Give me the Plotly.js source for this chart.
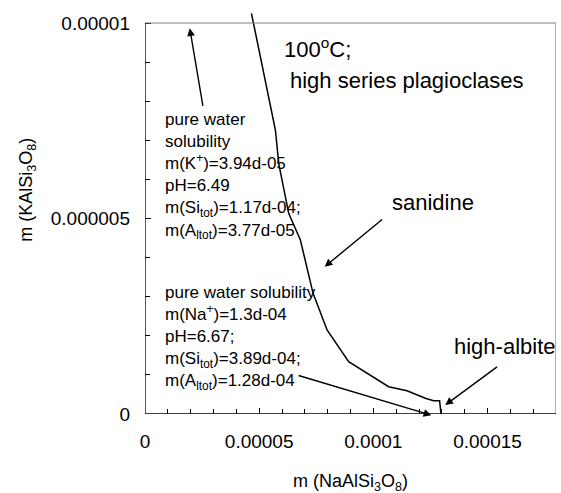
<!DOCTYPE html>
<html>
<head>
<meta charset="utf-8">
<script src="https://cdn.plot.ly/plotly-3.0.1.min.js"></script>
<style>html,body{margin:0;padding:0;background:#fff}#chart{width:561px;height:493px}</style>
</head>
<body>
<div id="chart"></div>
<script>
// Boundary curve (sanidine / high-albite), m(NaAlSi3O8) vs m(KAlSi3O8)
const curveX = [4.661e-5, 5.711e-5, 5.856e-5, 6.293e-5, 6.805e-5, 7.243e-5, 7.361e-5, 7.974e-5, 8.919e-5, 1.0670e-4, 1.1475e-4, 1.2276e-4, 1.2639e-4, 1.2902e-4, 1.2963e-4];
const curveY = [1.0248e-5, 7.263e-6, 6.412e-6, 5.133e-6, 4.450e-6, 3.427e-6, 3.087e-6, 2.148e-6, 1.338e-6, 6.98e-7, 5.96e-7, 4.02e-7, 3.40e-7, 3.40e-7, 0];

const xTickVals = [0, 5e-5, 1e-4, 1.5e-4];
const xTickText = ['0', '0.00005', '0.0001', '0.00015'];
const xMinorVals = [1e-5, 2e-5, 3e-5, 4e-5, 6e-5, 7e-5, 8e-5, 9e-5, 1.1e-4, 1.2e-4, 1.3e-4, 1.4e-4, 1.6e-4, 1.7e-4];
const yTickVals = [0, 5e-6, 1e-5];
const yTickText = ['0', '0.000005', '0.00001'];
const yMinorVals = [1e-6, 2e-6, 3e-6, 4e-6, 6e-6, 7e-6, 8e-6, 9e-6];

const kText = ['pure water', 'solubility', 'm(K<sup>+</sup>)=3.94d-05', 'pH=6.49', 'm(Si<sub>tot</sub>)=1.17d-04;', 'm(A<sub>ltot</sub>)=3.77d-05'];
const naText = ['pure water solubility', 'm(Na<sup>+</sup>)=1.3d-04', 'pH=6.67;', 'm(Si<sub>tot</sub>)=3.89d-04;', 'm(A<sub>ltot</sub>)=1.28d-04'];

const FONT = 'Liberation Sans, Arial, sans-serif';
const XMAX = 1.8e-4, YTOP = 1e-5;

const trace = {
  x: curveX, y: curveY, type: 'scatter', mode: 'lines',
  line: {color: '#000', width: 1.5}, hoverinfo: 'skip', showlegend: false
};

function arrow(hx, hy, tx, ty) {
  return {x: hx, y: hy, ax: tx, ay: ty, xref: 'x', yref: 'y', axref: 'x', ayref: 'y',
    text: '', showarrow: true, arrowhead: 2, arrowsize: 1.1, arrowwidth: 1.4,
    arrowcolor: '#000', standoff: 0, startstandoff: 0};
}
function label(x, y, text, size) {
  return {x: x, y: y, xref: 'x', yref: 'y', text: text, showarrow: false,
    xanchor: 'left', yanchor: 'middle', align: 'left',
    font: {family: FONT, size: size, color: '#000'}};
}

const layout = {
  width: 561, height: 493,
  margin: {l: 145, r: 5, t: 11, b: 79},
  paper_bgcolor: '#fff', plot_bgcolor: '#fff',
  font: {family: FONT, color: '#000'},
  showlegend: false,
  xaxis: {
    range: [0, XMAX], showline: false, zeroline: false, showgrid: false,
    tickmode: 'array', tickvals: xTickVals, ticktext: xTickText,
    ticks: 'inside', ticklen: 6, tickwidth: 1, tickcolor: '#000',
    ticklabelstandoff: 14,
    tickfont: {family: FONT, size: 19, color: '#000'},
    minor: {tickmode: 'array', tickvals: xMinorVals, ticks: 'inside', ticklen: 5, tickcolor: '#000', showgrid: false}
  },
  yaxis: {
    range: [0, YTOP * 403 / 391], showline: false, zeroline: false, showgrid: false,
    tickmode: 'array', tickvals: yTickVals, ticktext: yTickText,
    ticks: 'inside', ticklen: 6, tickwidth: 1, tickcolor: '#000',
    ticklabelstandoff: 14,
    tickfont: {family: FONT, size: 19, color: '#000'},
    minor: {tickmode: 'array', tickvals: yMinorVals, ticks: 'inside', ticklen: 5, tickcolor: '#000', showgrid: false}
  },
  shapes: [
    {type: 'line', xref: 'x', yref: 'y', x0: 0, x1: XMAX, y0: YTOP, y1: YTOP, line: {color: '#808080', width: 1.2}},
    {type: 'line', xref: 'x', yref: 'y', x0: XMAX, x1: XMAX, y0: 0, y1: YTOP, line: {color: '#808080', width: 1.2}},
    {type: 'line', xref: 'x', yref: 'y', x0: 0, x1: 0, y0: 0, y1: YTOP, line: {color: '#000', width: 1.3}},
    {type: 'line', xref: 'x', yref: 'y', x0: 0, x1: XMAX, y0: 0, y1: 0, line: {color: '#000', width: 1.3}}
  ],
  annotations: [
    label(6.018e-5, 9.361e-6, '100<sup>o</sup>C;', 22),
    label(6.28e-5, 8.542e-6, 'high series plagioclases', 22),
    label(1.0744e-4, 5.422e-6, 'sanidine', 22),
    label(1.3457e-4, 1.714e-6, 'high-albite', 22),
    label(8.1e-6, 6.079e-6, kText.join('<br>'), 17),
    label(8.1e-6, 1.951e-6, naText.join('<br>'), 17),
    arrow(1.961e-5, 9.864e-6, 2.547e-5, 7.844e-6),
    arrow(7.869e-5, 3.767e-6, 1.0451e-4, 5.005e-6),
    arrow(1.3151e-4, 2.30e-7, 1.5484e-4, 1.235e-6),
    arrow(1.2538e-4, -0.03e-6, 6.661e-5, 9.97e-7),
    {xref: 'paper', yref: 'paper', x: 0.501, y: -0.169, xanchor: 'center', yanchor: 'middle',
      text: 'm (NaAlSi<sub>3</sub>O<sub>8</sub>)', showarrow: false,
      font: {family: FONT, size: 18, color: '#000'}},
    {xref: 'paper', yref: 'paper', x: -0.285, y: 0.556, xanchor: 'center', yanchor: 'middle',
      textangle: -90, text: 'm (KAlSi<sub>3</sub>O<sub>8</sub>)', showarrow: false,
      font: {family: FONT, size: 18, color: '#000'}}
  ]
};

Plotly.newPlot('chart', [trace], layout, {staticPlot: true, displayModeBar: false});
</script>
</body>
</html>
